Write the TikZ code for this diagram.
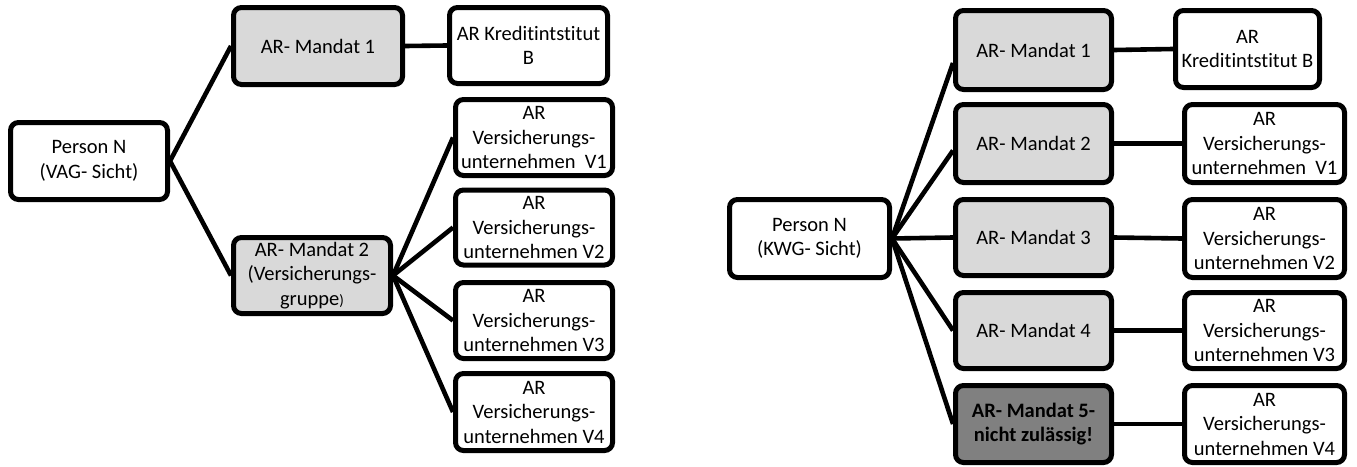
\documentclass[tikz,border=0pt]{standalone}
\usepackage{fontspec}
\setmainfont{Carlito}[Ligatures={NoCommon}]
\usetikzlibrary{calc}
\definecolor{mgray}{HTML}{D9D9D9}
\definecolor{dgray}{HTML}{808080}
\begin{document}
\begin{tikzpicture}[x=1pt,y=-1pt,
  box/.style={draw=black, line width=5pt, rounded corners=8pt, fill=white,
    align=center, inner sep=0pt, text=black,
    font=\fontsize{20.5}{24.5}\selectfont},
  mandat/.style={box, fill=mgray},
  badbox/.style={box, fill=dgray, font=\fontsize{20.5}{24.5}\selectfont\bfseries},
  conn/.style={draw=black, line width=4.6pt}]
\useasboundingbox (0,0) rectangle (1357,466);

% ---------- left diagram ----------
\node[box, minimum width=157, minimum height=77] (pL) at (89,161) {Person N\\(VAG- Sicht)};
\node[mandat, minimum width=169, minimum height=77] (m1L) at (318,46) {AR- Mandat 1};
\node[mandat, minimum width=157, minimum height=76] (m2L) at (312,275.5) {AR- Mandat 2\\(Versicherungs-\\gruppe{\fontsize{15}{18}\selectfont)}};
\node[box, minimum width=158, minimum height=76] (kL) at (528.5,45.5) {AR Kreditintstitut\\B};
\node[box, minimum width=157, minimum height=76] (v1L) at (534,137.5) {AR\\Versicherungs-\\unternehmen\ \ V1};
\node[box, minimum width=157, minimum height=75] (v2L) at (534,227.5) {AR\\Versicherungs-\\unternehmen V2};
\node[box, minimum width=157, minimum height=76] (v3L) at (534,320.5) {AR\\Versicherungs-\\unternehmen V3};
\node[box, minimum width=157, minimum height=77] (v4L) at (534,412) {AR\\Versicherungs-\\unternehmen V4};

\draw[conn] (pL.east) -- (m1L.west);
\draw[conn] (pL.east) -- (m2L.west);
\draw[conn] (m1L.east) -- (kL.west);
\draw[conn] (m2L.east) -- (v1L.west);
\draw[conn] (m2L.east) -- (v2L.west);
\draw[conn] (m2L.east) -- (v3L.west);
\draw[conn] (m2L.east) -- (v4L.west);

% ---------- right diagram ----------
\node[box, minimum width=160, minimum height=78] (pR) at (809.5,238.5) {Person N\\(KWG- Sicht)};
\node[mandat, minimum width=156, minimum height=79] (m1R) at (1033.5,50) {AR- Mandat 1};
\node[mandat, minimum width=156, minimum height=78] (m2R) at (1033.5,143.5) {AR- Mandat 2};
\node[mandat, minimum width=156, minimum height=76] (m3R) at (1033.5,237.5) {AR- Mandat 3};
\node[mandat, minimum width=156, minimum height=76] (m4R) at (1033.5,330.5) {AR- Mandat 4};
\node[badbox, minimum width=156, minimum height=77] (m5R) at (1033.5,424) {AR- Mandat 5-\\nicht zulässig!};
\node[box, minimum width=144, minimum height=77] (kR) at (1247.5,49) {AR\\Kreditintstitut B};
\node[box, minimum width=160, minimum height=78] (v1R) at (1264.5,143.5) {AR\\Versicherungs-\\unternehmen\ \ V1};
\node[box, minimum width=160, minimum height=78] (v2R) at (1264.5,238.5) {AR\\Versicherungs-\\unternehmen V2};
\node[box, minimum width=160, minimum height=76] (v3R) at (1264.5,330.5) {AR\\Versicherungs-\\unternehmen V3};
\node[box, minimum width=160, minimum height=77] (v4R) at (1264.5,424) {AR\\Versicherungs-\\unternehmen V4};

\draw[conn] (pR.east) -- ($(m1R.west)+(0,13)$);
\draw[conn] (pR.east) -- ($(m2R.west)+(0,7)$);
\draw[conn] (pR.east) -- (m3R.west);
\draw[conn] (pR.east) -- (m4R.west);
\draw[conn] (pR.east) -- (m5R.west);
\draw[conn] (m1R.east) -- (kR.west);
\draw[conn] (m2R.east) -- (v1R.west);
\draw[conn] (m3R.east) -- (v2R.west);
\draw[conn] (m4R.east) -- (v3R.west);
\draw[conn] (m5R.east) -- (v4R.west);
\end{tikzpicture}
\end{document}
